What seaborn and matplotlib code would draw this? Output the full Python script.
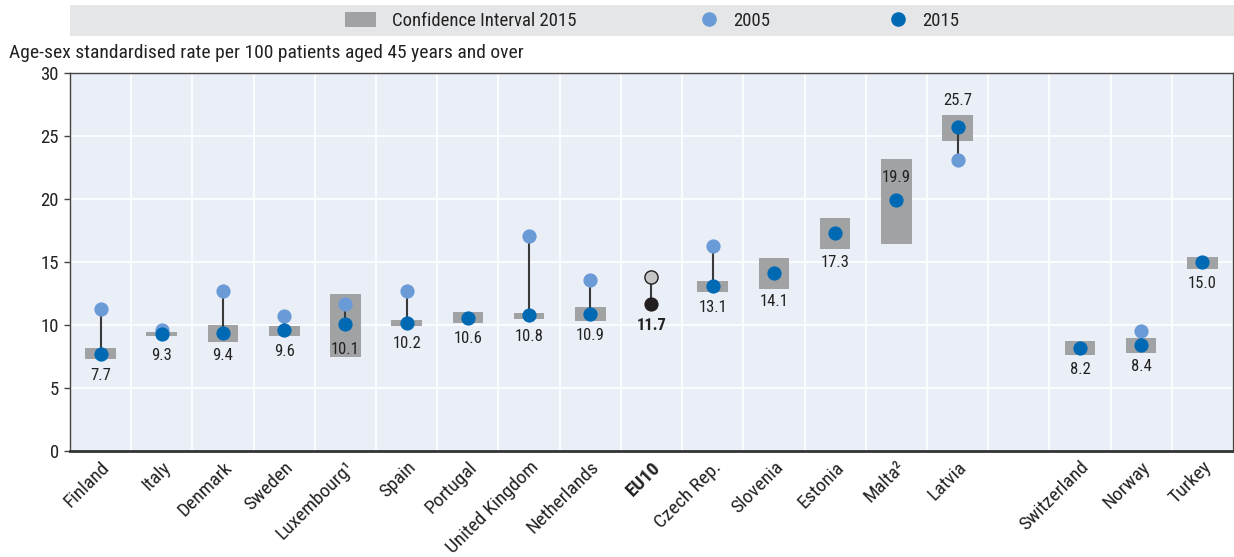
import numpy as np
import pandas as pd
import matplotlib
matplotlib.use("Agg")
import matplotlib.pyplot as plt
import matplotlib.transforms as mtransforms
from matplotlib.patches import Rectangle
from matplotlib.lines import Line2D
import seaborn as sns

# values
countries = ["Finland", "Italy", "Denmark", "Sweden", "Luxembourg\u00b9", "Spain",
             "Portugal", "United Kingdom", "Netherlands", "EU10", "Czech Rep.",
             "Slovenia", "Estonia", "Malta\u00b2", "Latvia",
             "Switzerland", "Norway", "Turkey"]
rate_2015 = [7.7, 9.3, 9.4, 9.6, 10.1, 10.2, 10.6, 10.8, 10.9, 11.7, 13.1,
             14.1, 17.3, 19.9, 25.7, 8.2, 8.4, 15.0]
rate_2005 = [11.3, 9.6, 12.7, 10.7, 11.7, 12.7, np.nan, 17.1, 13.6, 13.8, 16.3,
             np.nan, np.nan, np.nan, 23.1, np.nan, 9.5, np.nan]
ci_low = [7.3, 9.13, 8.65, 9.15, 7.5, 9.95, 10.2, 10.5, 10.35, np.nan, 12.65,
          12.9, 16.0, 16.4, 24.6, 7.65, 7.8, 14.45]
ci_high = [8.2, 9.45, 10.0, 9.95, 12.5, 10.4, 11.0, 10.95, 11.4, np.nan, 13.5,
           15.3, 18.5, 23.2, 26.7, 8.7, 8.97, 15.4]
label_pos = ["box", "box", "box", "box", "point", "box", "box", "box", "box",
             "box", "box", "box", "box", "above", "above_box", "box", "box", "box"]

# partner countries sit after a one-slot gap
x_pos = [i if i < 15 else i + 1 for i in range(len(countries))]

df = pd.DataFrame({"country": countries, "x": x_pos, "y2015": rate_2015,
                   "y2005": rate_2005, "lo": ci_low, "hi": ci_high})
is_eu = df["country"] == "EU10"

c05 = "#6B9BD6"
c15 = "#0069B4"
cgrey = "#A1A2A4"
ctext = "#222222"

sns.set_theme(style="whitegrid", rc={"axes.facecolor": "#E9EEF7"})
plt.rcParams["font.family"] = ["Roboto Condensed", "Archivo Narrow", "Liberation Sans", "DejaVu Sans"]

fig = plt.figure(figsize=(12.34, 5.57), dpi=100)
ax = fig.add_axes([0.0567, 0.19, 0.9425, 0.679])

# confidence interval boxes
ci = df.dropna(subset=["lo"])
ax.bar(ci["x"], ci["hi"] - ci["lo"], bottom=ci["lo"], width=0.5,
       color=cgrey, zorder=2, linewidth=0)

# connectors 2005 -> 2015
both = df.dropna(subset=["y2005"])
ax.vlines(both["x"], both["y2005"], both["y2015"], color="#3A3A3A", lw=1.5, zorder=3)

sns.scatterplot(data=df[~is_eu], x="x", y="y2005", color=c05, s=105,
                linewidth=0, zorder=4, ax=ax)
sns.scatterplot(data=df[~is_eu], x="x", y="y2015", color=c15, s=105,
                linewidth=0, zorder=5, ax=ax)
sns.scatterplot(data=df[is_eu], x="x", y="y2005", color="#C6C6C6", s=90,
                edgecolor="#231F20", linewidth=1, zorder=4, ax=ax)
sns.scatterplot(data=df[is_eu], x="x", y="y2015", color="#231F20", s=105,
                linewidth=0, zorder=5, ax=ax)

# value labels
for i, r in df.iterrows():
    mode = label_pos[i]
    bold = "bold" if r["country"] == "EU10" else "normal"
    txt = f"{r['y2015']:.1f}"
    if mode == "above":
        ax.annotate(txt, (r["x"], r["y2015"]), xytext=(0, 11), textcoords="offset points",
                    ha="center", va="bottom", fontsize=12, color=ctext, zorder=6)
    elif mode == "above_box":
        ax.annotate(txt, (r["x"], r["hi"]), xytext=(0, 5), textcoords="offset points",
                    ha="center", va="bottom", fontsize=12, color=ctext, zorder=6)
    else:
        y = r["y2015"]
        off = -13 if mode == "point" else -10
        if mode == "box" and not np.isnan(r["lo"]):
            lo_off = (r["lo"] - y) * 12.6 * 0.72
            off = min(off, lo_off - 4)
        ax.annotate(txt, (r["x"], y), xytext=(0, off), textcoords="offset points",
                    ha="center", va="top", fontsize=12, color=ctext,
                    fontweight=bold, zorder=6)

ax.set_xlim(-0.5, 18.5)
ax.set_ylim(0, 30)
ax.set_yticks(range(0, 31, 5))
ax.set_xticks(df["x"])
ax.set_xticklabels(df["country"], rotation=45, ha="right", rotation_mode="anchor")
shift = mtransforms.ScaledTranslation(-6 / 100, 0, fig.dpi_scale_trans)
for lab in ax.get_xticklabels():
    lab.set_transform(lab.get_transform() + shift)
    if lab.get_text() == "EU10":
        lab.set_fontweight("bold")
ax.set_xticks(np.arange(-0.5, 18.6, 1), minor=True)
ax.set_xlabel("")
ax.set_ylabel("")
ax.grid(False)
ax.grid(True, axis="y", which="major", color="white", lw=1.2, zorder=0)
ax.grid(True, axis="x", which="minor", color="white", lw=1.2, zorder=0)
ax.set_axisbelow(True)
ax.tick_params(axis="x", which="major", length=0, labelsize=14, pad=5, colors=ctext)
ax.tick_params(axis="x", which="minor", length=5, width=1, color="#444444", direction="in")
ax.tick_params(axis="y", which="major", length=4, width=1, color="#444444",
               labelsize=13.5, colors=ctext, direction="out", left=True, pad=4)
for side in ["top", "right", "left"]:
    ax.spines[side].set_color("#444444")
    ax.spines[side].set_linewidth(1)
ax.spines["bottom"].set_color("#333333")
ax.spines["bottom"].set_linewidth(2)

fig.text(0.007, 1 - 53 / 557, "Age-sex standardised rate per 100 patients aged 45 years and over",
         fontsize=14, color=ctext, va="center")

# legend band
fig.patches.append(Rectangle((70 / 1234, 1 - 36 / 557), 1 - 70 / 1234, 31 / 557,
                             transform=fig.transFigure,
                             facecolor="#E5E6E8", edgecolor="none", zorder=0))
entries = [
    (Rectangle((0, 0), 1, 1, facecolor=cgrey, edgecolor="none"), "Confidence Interval 2015", 345, 1.65, 0.85),
    (Line2D([], [], marker="o", ls="", color=c05, markersize=9.5), "2005", 696, 1.4, 0.6),
    (Line2D([], [], marker="o", ls="", color=c15, markersize=9.5), "2015", 885, 1.4, 0.6),
]
for handle, text, x0, hlen, pad in entries:
    fig.legend([handle], [text], loc="center left",
               bbox_to_anchor=(x0 / 1234, 1 - 21 / 557), frameon=False,
               fontsize=13.5, handlelength=hlen, handleheight=0.85, handletextpad=pad,
               borderpad=0, borderaxespad=0, labelcolor=ctext)

fig.savefig("out.png", dpi=100)
